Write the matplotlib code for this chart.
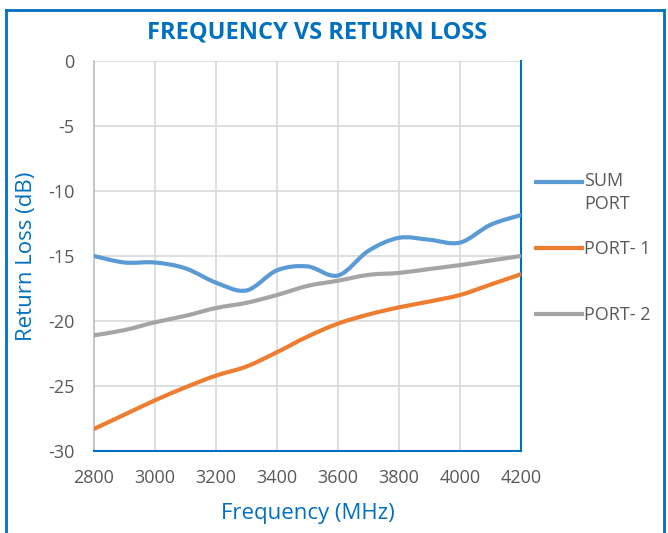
import numpy as np
import matplotlib
matplotlib.use("Agg")
import matplotlib.pyplot as plt
from matplotlib.path import Path
from matplotlib.patches import PathPatch
from matplotlib.lines import Line2D

plt.rcParams['font.family'] = ['Open Sans', 'DejaVu Sans']
plt.rcParams['axes.unicode_minus'] = False

freq = [2800, 2900, 3000, 3100, 3200, 3300, 3400, 3500, 3600, 3700, 3800, 3900, 4000, 4100, 4200]
sum_port = [-15.0, -15.5, -15.5, -15.95, -17.05, -17.65, -16.1, -15.8, -16.5, -14.6, -13.6, -13.75, -13.97, -12.6, -11.85]
port1 = [-28.3, -27.2, -26.1, -25.1, -24.2, -23.5, -22.4, -21.2, -20.2, -19.5, -18.95, -18.5, -18.0, -17.2, -16.4]
port2 = [-21.1, -20.7, -20.1, -19.6, -19.0, -18.6, -18.0, -17.3, -16.9, -16.45, -16.3, -16.0, -15.7, -15.35, -15.0]
series_names = ["SUM\nPORT", "PORT- 1", "PORT- 2"]
colors = ["#5B9BD5", "#ED7D31", "#A5A5A5"]
xticks = [2800, 3000, 3200, 3400, 3600, 3800, 4000, 4200]
yticks = [0, -5, -10, -15, -20, -25, -30]

W, H = 668, 533
fig = plt.figure(figsize=(W/100, H/100), dpi=100)
ax = fig.add_axes([94/W, 1-451/H, (521-94)/W, (451-61)/H])


def smooth_path(x, y):
    pts = np.column_stack([np.asarray(x, float), np.asarray(y, float)])
    verts = [pts[0]]
    codes = [Path.MOVETO]
    n = len(pts)
    for i in range(n - 1):
        p0 = pts[i - 1] if i > 0 else pts[i]
        p1 = pts[i]
        p2 = pts[i + 1]
        p3 = pts[i + 2] if i + 2 < n else pts[i + 1]
        c1 = p1 + (p2 - p0) / 6
        c2 = p2 - (p3 - p1) / 6
        verts += [c1, c2, p2]
        codes += [Path.CURVE4] * 3
    return Path(verts, codes)


for ys, c in zip([sum_port, port1, port2], colors):
    patch = PathPatch(smooth_path(freq, ys), facecolor='none', edgecolor=c,
                      lw=3.0, capstyle='round', joinstyle='round', zorder=3)
    ax.add_patch(patch)

ax.set_xlim(2800, 4200)
ax.set_ylim(-30, 0)
ax.set_xticks(xticks)
ax.set_yticks(yticks)
ax.grid(True, color='#D9D9D9', lw=1.2)
ax.set_axisbelow(True)
ax.tick_params(length=0, labelsize=13, labelcolor='#595959')
ax.tick_params(axis='x', pad=13)
ax.tick_params(axis='y', pad=14)
ax.spines['top'].set_visible(False)
ax.spines['left'].set_color('#BFBFBF')
ax.spines['left'].set_linewidth(1.2)
ax.spines['bottom'].set_color('#0070C0')
ax.spines['bottom'].set_linewidth(1.5)
ax.spines['right'].set_color('#0070C0')
ax.spines['right'].set_linewidth(1.5)

fig.text(308/W, 1-514/H, "Frequency (MHz)", ha='center', va='center', fontsize=16, color='#0070C0')
fig.text(27/W, 1-256/H, "Return Loss (dB)", ha='center', va='center', fontsize=16,
         color='#0070C0', rotation=90)

fig.text(317/W, 1-32/H, "FREQUENCY VS RETURN LOSS", ha='center', va='center',
         fontsize=17, fontweight='bold', color='#0070C0')

# legend (drawn at figure positions)
leg_y = [182, 248, 314]
for name, c, yy in zip(series_names, colors, leg_y):
    fig.add_artist(Line2D([536/W, 582/W], [1-yy/H, 1-yy/H], color=c, lw=3.0,
                          transform=fig.transFigure))
    if "\n" in name:
        fig.text(584/W, 1-(yy-10)/H, name, ha='left', va='top', fontsize=13,
                 color='#595959', linespacing=1.35)
    else:
        fig.text(584/W, 1-(yy+1)/H, name, ha='left', va='center', fontsize=13,
                 color='#595959')

# outer chart border
bc = '#0070C0'
fig.add_artist(Line2D([6/W, 6/W], [-0.05, 1-10/H], color=bc, lw=2, transform=fig.transFigure))
fig.add_artist(Line2D([6/W, 664/W], [1-10/H, 1-10/H], color=bc, lw=2, transform=fig.transFigure))
fig.add_artist(Line2D([664/W, 664/W], [-0.05, 1-10/H], color=bc, lw=2, transform=fig.transFigure))

fig.savefig("out.png", dpi=100)
